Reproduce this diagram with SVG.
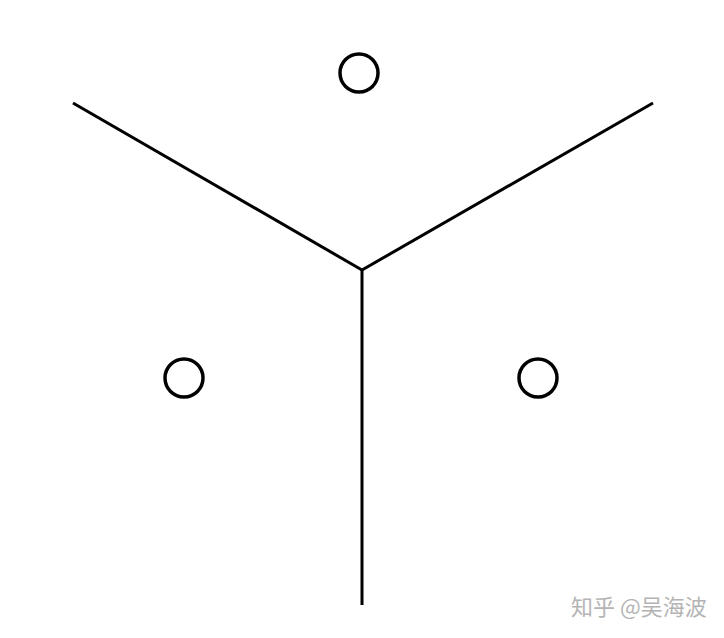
<svg xmlns="http://www.w3.org/2000/svg" width="724" height="638" viewBox="0 0 724 638">
<style>
.edge{stroke:#000;stroke-width:3;fill:none;stroke-linecap:butt}
.site{stroke:#000;stroke-width:3.5;fill:#fff}
.wm{font-family:"Noto Sans CJK SC","Liberation Sans",sans-serif;font-size:22px;fill:#b4b4b4}
</style>
<rect width="724" height="638" fill="#fff"/>
<g id="connectors">
<line class="edge" x1="73" y1="103" x2="362" y2="270"/>
<line class="edge" x1="653" y1="103" x2="362" y2="270"/>
<line class="edge" x1="362" y1="270" x2="362" y2="605"/>
</g>
<g id="site-top"><circle class="site" cx="359" cy="73" r="19"/></g>
<g id="site-left"><circle class="site" cx="184" cy="378" r="19"/></g>
<g id="site-right"><circle class="site" cx="538" cy="378" r="19"/></g>
<text class="wm" x="571" y="615">知乎 @吴海波</text>
</svg>
